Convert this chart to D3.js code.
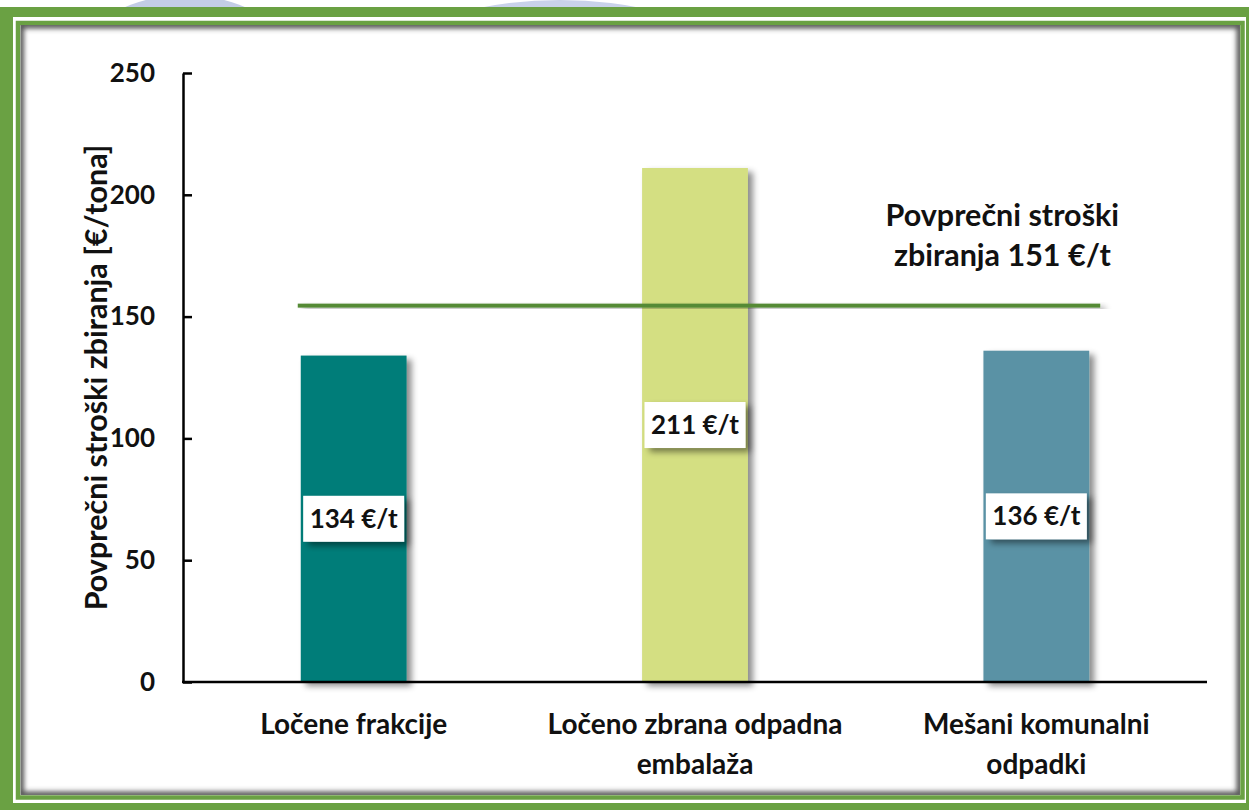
<!DOCTYPE html>
<html>
<head>
<meta charset="utf-8">
<script src="https://cdn.jsdelivr.net/npm/d3@7"></script>
<style>
  body { margin: 0; background: #fff; }
  text { font-family: Lato, "Open Sans", sans-serif; font-weight: bold; fill: #111; }
</style>
</head>
<body>
<div id="chart"></div>
<script>
// Podatki
const categories = ["Ločene frakcije", "Ločeno zbrana odpadna embalaža", "Mešani komunalni odpadki"];
const categoryLines = [["Ločene frakcije"], ["Ločeno zbrana odpadna", "embalaža"], ["Mešani komunalni", "odpadki"]];
const costs = [134, 211, 136];
const costLabels = ["134 €/t", "211 €/t", "136 €/t"];
const yTicks = [0, 50, 100, 150, 200, 250];
const averageLevel = 154.5; // kjer je črta narisana na sliki
const averageText = ["Povprečni stroški", "zbiranja 151 €/t"];
const yTitle = "Povprečni stroški zbiranja [€/tona]";

const barColors = ["#007d79", "#d4df82", "#5a92a5"];

// Dimenzije
const W = 1249, H = 810;
const plot = { left: 183, right: 1207, top: 73, bottom: 682 };

const svg = d3.select("#chart").append("svg").attr("width", W).attr("height", H);
const defs = svg.append("defs");

const shadow = defs.append("filter").attr("id", "shadow")
  .attr("x", "-20%").attr("y", "-20%").attr("width", "150%").attr("height", "150%");
shadow.append("feDropShadow").attr("dx", 5).attr("dy", 4)
  .attr("stdDeviation", 3).attr("flood-color", "#000").attr("flood-opacity", 0.45);

const blur = defs.append("filter").attr("id", "blur");
blur.append("feGaussianBlur").attr("stdDeviation", 2.5);

defs.append("clipPath").attr("id", "inner")
  .append("rect").attr("x", 20.5).attr("y", 25).attr("width", 1219.5).attr("height", 770);
defs.append("clipPath").attr("id", "topstrip")
  .append("rect").attr("x", 0).attr("y", 0).attr("width", W).attr("height", 8);

// Ozadje (bled vodni žig zgoraj)
const wm = svg.append("g").attr("clip-path", "url(#topstrip)");
wm.append("ellipse").attr("cx", 185).attr("cy", 120).attr("rx", 140).attr("ry", 125).attr("fill", "#c3cde6");
wm.append("ellipse").attr("cx", 560).attr("cy", 160).attr("rx", 260).attr("ry", 160).attr("fill", "#c9d2ea");
wm.append("ellipse").attr("cx", 1010).attr("cy", 110).attr("rx", 110).attr("ry", 100).attr("fill", "#f2f2f2");

// Zunanji okvir
svg.append("path")
  .attr("fill-rule", "evenodd")
  .attr("fill", "#6aa143")
  .attr("d", `M-5,7H${W + 5}V${H + 5}H-5Z M13,17V803H1246V17Z`);

svg.append("rect")
  .attr("x", 18).attr("y", 23).attr("width", 1224.5).attr("height", 774.5)
  .attr("fill", "#fff").attr("stroke", "#6aa143").attr("stroke-width", 4.5);

svg.append("g").attr("clip-path", "url(#inner)")
  .append("rect")
  .attr("x", 20.5).attr("y", 25).attr("width", 1219.5).attr("height", 770)
  .attr("fill", "none").attr("stroke", "#555").attr("stroke-width", 7)
  .attr("filter", "url(#blur)");

// Skale
const x = d3.scaleBand().domain(categories)
  .range([plot.left, plot.right]).paddingInner(0.69).paddingOuter(0.345);
const y = d3.scaleLinear().domain([0, 250]).range([plot.bottom, plot.top]);

// Stolpci
svg.append("g").selectAll("rect").data(categories).join("rect")
  .attr("x", (d) => x(d))
  .attr("y", (d, i) => y(costs[i]))
  .attr("width", x.bandwidth())
  .attr("height", (d, i) => y(0) - y(costs[i]))
  .attr("fill", (d, i) => barColors[i])
  .attr("filter", "url(#shadow)");

// Povprečje (pravokotnik, da senca deluje)
const lineW = 4;
svg.append("rect")
  .attr("x", x(categories[0]) - 3)
  .attr("width", x(categories[2]) + x.bandwidth() + 11 - (x(categories[0]) - 3))
  .attr("y", y(averageLevel) - lineW / 2)
  .attr("height", lineW)
  .attr("fill", "#548a36")
  .attr("filter", "url(#shadow)");

svg.append("g").selectAll("text").data(averageText).join("text")
  .attr("x", x(categories[2]) + x.bandwidth() / 2 - 34)
  .attr("y", (d, i) => y(averageLevel) - 80 + i * 40)
  .attr("text-anchor", "middle")
  .style("font-size", "30.5px")
  .text((d) => d);

// Oznake vrednosti
const boxW = 101, boxH = 46;
const lbl = svg.append("g").selectAll("g").data(categories).join("g")
  .attr("transform", (d, i) => `translate(${x(d) + x.bandwidth() / 2},${y(costs[i] / 2)})`);
lbl.append("rect")
  .attr("x", -boxW / 2).attr("y", -boxH / 2).attr("width", boxW).attr("height", boxH)
  .attr("fill", "#fff").attr("filter", "url(#shadow)");
lbl.append("text")
  .attr("text-anchor", "middle").attr("dy", "0.35em")
  .style("font-size", "26px")
  .text((d, i) => costLabels[i]);

// Osi
const yAxis = svg.append("g")
  .attr("transform", `translate(${plot.left},0)`)
  .call(d3.axisLeft(y).tickValues(yTicks).tickSize(-9).tickSizeOuter(0).tickPadding(28));
yAxis.select(".domain").attr("stroke", "#000").attr("stroke-width", 2.5);
yAxis.selectAll(".tick line").attr("stroke", "#000").attr("stroke-width", 2.5);
yAxis.selectAll(".tick text").style("font-size", "26px").attr("font-family", null).attr("fill", "#111");

const xAxis = svg.append("g")
  .attr("transform", `translate(0,${plot.bottom})`)
  .call(d3.axisBottom(x).tickSize(0).tickSizeOuter(0).tickFormat(""));
xAxis.select(".domain").attr("stroke", "#000").attr("stroke-width", 2.5)
  .attr("d", `M${plot.left - 1},0H${plot.right}`);

svg.append("g").selectAll("text").data(categories).join("text")
  .attr("x", (d) => x(d) + x.bandwidth() / 2)
  .attr("y", plot.bottom + 52)
  .attr("text-anchor", "middle")
  .style("font-size", "28px")
  .selectAll("tspan").data((d, i) => categoryLines[i]).join("tspan")
  .attr("x", function () { return this.parentNode.getAttribute("x"); })
  .attr("dy", (d, j) => (j === 0 ? 0 : 40))
  .text((d) => d);

svg.append("text")
  .attr("transform", `translate(${plot.left - 87},${y(125)}) rotate(-90)`)
  .attr("text-anchor", "middle")
  .attr("dy", "0.35em")
  .style("font-size", "30.5px")
  .text(yTitle);
</script>
</body>
</html>
